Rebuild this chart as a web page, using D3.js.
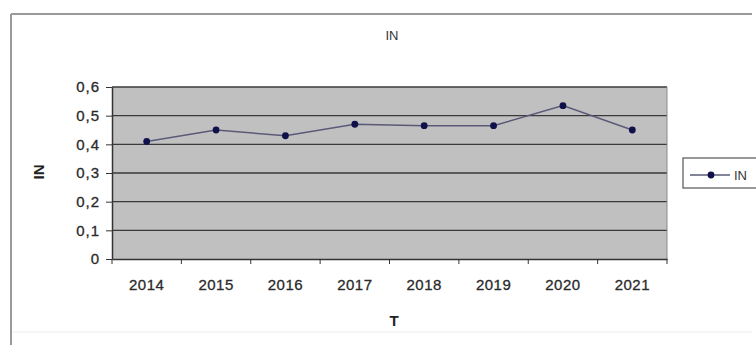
<!DOCTYPE html>
<html><head><meta charset="utf-8">
<script src="https://cdn.jsdelivr.net/npm/d3@7"></script>
<style>body{margin:0;background:#fff}svg{display:block}text{font-family:"Liberation Sans",Arial,sans-serif}</style>
</head><body>
<svg id="c" width="756" height="345"></svg>
<script>
const categories = ["2014","2015","2016","2017","2018","2019","2020","2021"];
const values = [0.41, 0.45, 0.43, 0.47, 0.465, 0.465, 0.535, 0.45];
const yTicks = [0, 0.1, 0.2, 0.3, 0.4, 0.5, 0.6];
const seriesName = "IN";
const chartTitle = "IN";
const xTitle = "T";
const yTitle = "IN";

const svg = d3.select("#c");
const L = 112, R = 667, T = 87, B = 259;

// outer frame
svg.append("line").attr("x1",11).attr("x2",752).attr("y1",14).attr("y2",14).attr("stroke","#9a9a9a").attr("stroke-width",2);
svg.append("line").attr("x1",11).attr("x2",11).attr("y1",14).attr("y2",345).attr("stroke","#9a9a9a").attr("stroke-width",2);
svg.append("line").attr("x1",12).attr("x2",752).attr("y1",332).attr("y2",332).attr("stroke","#ececec").attr("stroke-width",1);

const x = d3.scaleBand().domain(categories).range([L, R]);
const y = d3.scaleLinear().domain([0, 0.6]).range([B, T]);

svg.append("rect").attr("x",L).attr("y",T).attr("width",R-L).attr("height",B-T).attr("fill","#c0c0c0");

// gridlines
svg.append("g").selectAll("line").data(yTicks.filter(d=>d>0)).join("line")
  .attr("x1",L).attr("x2",R).attr("y1",d=>y(d)).attr("y2",d=>y(d))
  .attr("stroke","#3a3a3a").attr("stroke-width",1.3);
svg.append("line").attr("x1",R).attr("x2",R).attr("y1",T).attr("y2",B).attr("stroke","#8a8a8a");

// y axis
const yAxis = d3.axisLeft(y).tickValues(yTicks).tickSize(6).tickSizeOuter(0)
  .tickFormat(d => d === 0 ? "0" : d3.format(".1f")(d).replace(".", ","));
const gy = svg.append("g").attr("transform",`translate(${L},0)`).call(yAxis);
gy.select(".domain").attr("stroke","#333").attr("stroke-width",1.5);
gy.selectAll(".tick line").attr("stroke","#333");
gy.selectAll("text").attr("fill","#2a2a2a").attr("font-size",15).attr("letter-spacing",1).attr("x",-12)
  .attr("stroke","#2a2a2a").attr("stroke-width",0.3);

// x axis
const gx = svg.append("g").attr("transform",`translate(0,${B})`).call(d3.axisBottom(x).tickSize(0).tickSizeOuter(0));
gx.select(".domain").attr("stroke","#333").attr("stroke-width",1.5);
gx.selectAll("text").attr("fill","#2a2a2a").attr("font-size",15).attr("letter-spacing",0.5).attr("dy","1.85em")
  .attr("stroke","#2a2a2a").attr("stroke-width",0.3);
const bounds = categories.map(c => x(c)).concat([R]);
svg.append("g").selectAll("line").data(bounds).join("line")
  .attr("x1",d=>d).attr("x2",d=>d).attr("y1",B).attr("y2",B+5).attr("stroke","#333");

// line + markers
const cx = d => x(d) + x.bandwidth()/2;
const line = d3.line().x((d,i)=>cx(categories[i])).y(d=>y(d));
svg.append("path").datum(values).attr("d",line).attr("fill","none").attr("stroke","#5a5a78").attr("stroke-width",1.5);
svg.append("g").selectAll("circle").data(values).join("circle")
  .attr("cx",(d,i)=>cx(categories[i])).attr("cy",d=>y(d)).attr("r",3.4).attr("fill","#10104a");

// titles
svg.append("text").attr("x",392).attr("y",40).attr("text-anchor","middle").attr("font-size",13).attr("fill","#333").text(chartTitle);
svg.append("text").attr("x",394).attr("y",326).attr("text-anchor","middle").attr("font-size",15).attr("font-weight","bold").attr("fill","#222").text(xTitle);
svg.append("text").attr("transform","translate(44,172) rotate(-90)").attr("text-anchor","middle").attr("font-size",15).attr("font-weight","bold").attr("fill","#222").text(yTitle);

// legend
const lg = svg.append("g");
lg.append("rect").attr("x",683).attr("y",158).attr("width",90).attr("height",30).attr("fill","#fff").attr("stroke","#555").attr("stroke-width",1.2);
lg.append("line").attr("x1",690).attr("x2",730).attr("y1",175).attr("y2",175).attr("stroke","#5a5a78").attr("stroke-width",1.5);
lg.append("circle").attr("cx",711).attr("cy",175).attr("r",3.4).attr("fill","#10104a");
lg.append("text").attr("x",734).attr("y",180).attr("font-size",13).attr("fill","#333").text(seriesName);
</script>
</body></html>
